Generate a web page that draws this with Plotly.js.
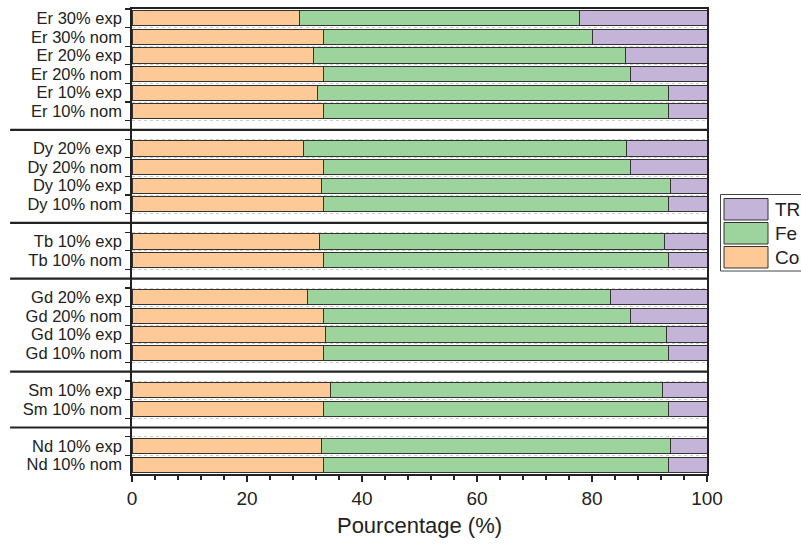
<!DOCTYPE html>
<html>
<head>
<meta charset="utf-8">
<script src="https://cdn.plot.ly/plotly-3.0.1.min.js"></script>
<style>html,body{margin:0;padding:0;background:#fff;}#chart{width:801px;height:544px;}</style>
</head>
<body>
<div id="chart"></div>
<script>
// Categories, top to bottom (blank entries are group separators)
const categories = [
  'Er 30% exp','Er 30% nom','Er 20% exp','Er 20% nom','Er 10% exp','Er 10% nom',' ',
  'Dy 20% exp','Dy 20% nom','Dy 10% exp','Dy 10% nom','  ',
  'Tb 10% exp','Tb 10% nom','   ',
  'Gd 20% exp','Gd 20% nom','Gd 10% exp','Gd 10% nom','    ',
  'Sm 10% exp','Sm 10% nom','     ',
  'Nd 10% exp','Nd 10% nom'
];
// Composition in % (null for separators)
const co = [29.2,33.3,31.6,33.3,32.2,33.3,null, 29.9,33.3,32.9,33.3,null, 32.6,33.3,null, 30.6,33.3,33.6,33.3,null, 34.6,33.3,null, 32.9,33.3];
const fe = [48.7,46.7,54.3,53.4,61.1,60.0,null, 56.1,53.4,60.7,60.0,null, 60.0,60.0,null, 52.7,53.4,59.3,60.0,null, 57.7,60.0,null, 60.7,60.0];
const tr = [22.1,20.0,14.1,13.3,6.7,6.7,null, 14.0,13.3,6.4,6.7,null, 7.4,6.7,null, 16.7,13.3,7.1,6.7,null, 7.7,6.7,null, 6.4,6.7];
const seriesNames = ['Co','Fe','TR'];
const seriesColors = ['#FDC997','#9DD39C','#C3B4D8'];
const xTitle = 'Pourcentage (%)';

const FONT = 'Liberation Sans, Arial, sans-serif';
const values = [co, fe, tr];
const traces = seriesNames.map((n, k) => ({
  type: 'bar', orientation: 'h', name: n,
  x: values[k], y: categories,
  width: 0.82,
  marker: {color: seriesColors[k], line: {color: '#333', width: 1}},
  showlegend: false, hoverinfo: 'x+y+name'
}));

const N = categories.length;
const shapes = [];
// group separators
categories.forEach((c, i) => {
  if (c.trim() === '') {
    const yp = 1 - (i + 0.5) / N;
    shapes.push({type: 'line', xref: 'paper', yref: 'paper', x0: -0.212, x1: 1, y0: yp, y1: yp,
      line: {color: '#222', width: 2.2}});
  }
});
// custom legend (TR, Fe, Co from top)
const annotations = [];
const legOrder = [2, 1, 0];
const px2x = px => (px - 132) / 575;
const py2y = py => 1 - (py - 9) / 465;
shapes.push({type: 'rect', xref: 'paper', yref: 'paper', x0: px2x(720.5), x1: px2x(812), y0: py2y(194.5), y1: py2y(271),
  line: {color: '#444', width: 1}, fillcolor: 'rgba(0,0,0,0)'});
legOrder.forEach((k, j) => {
  const top = 198.5 + j * 24;
  shapes.push({type: 'rect', xref: 'paper', yref: 'paper', x0: px2x(724), x1: px2x(768), y0: py2y(top), y1: py2y(top + 21.5),
    line: {color: '#333', width: 1}, fillcolor: seriesColors[k]});
  annotations.push({xref: 'paper', yref: 'paper', x: px2x(773), y: py2y(top + 11), xanchor: 'left', yanchor: 'middle',
    text: seriesNames[k], showarrow: false, font: {family: FONT, size: 19, color: '#222'}});
});

const layout = {
  width: 801, height: 544,
  margin: {l: 132, r: 94, t: 9, b: 70},
  paper_bgcolor: '#fff', plot_bgcolor: '#fff',
  barmode: 'stack', bargap: 0.18,
  font: {family: FONT, color: '#222'},
  xaxis: {
    range: [0, 100], dtick: 20, tick0: 0,
    ticks: 'outside', ticklen: 6, tickwidth: 1.3, tickcolor: '#222',
    minor: {dtick: 4, ticks: 'outside', ticklen: 4, tickwidth: 1.2, tickcolor: '#222', showgrid: false},
    showgrid: false, zeroline: false,
    showline: true, linecolor: '#222', linewidth: 1.8, mirror: true,
    tickfont: {family: FONT, size: 19, color: '#222'},
    title: {text: xTitle, font: {family: FONT, size: 22, color: '#222'}, standoff: 10}
  },
  yaxis: {
    type: 'category', categoryorder: 'array', categoryarray: categories,
    autorange: 'reversed', tickson: 'boundaries',
    tickmode: 'linear', tick0: 0, dtick: 1,
    ticks: 'outside', ticklen: 5, tickwidth: 1.3, tickcolor: '#222',
    ticklabelstandoff: 5,
    showgrid: true, gridcolor: '#cccccc', griddash: 'dot', gridwidth: 1,
    showline: true, linecolor: '#222', linewidth: 1.8, mirror: true,
    zeroline: false,
    tickfont: {family: FONT, size: 16.5, color: '#222'}
  },
  shapes: shapes,
  annotations: annotations,
  showlegend: false
};

Plotly.newPlot('chart', traces, layout, {displayModeBar: false, staticPlot: true});
</script>
</body>
</html>
